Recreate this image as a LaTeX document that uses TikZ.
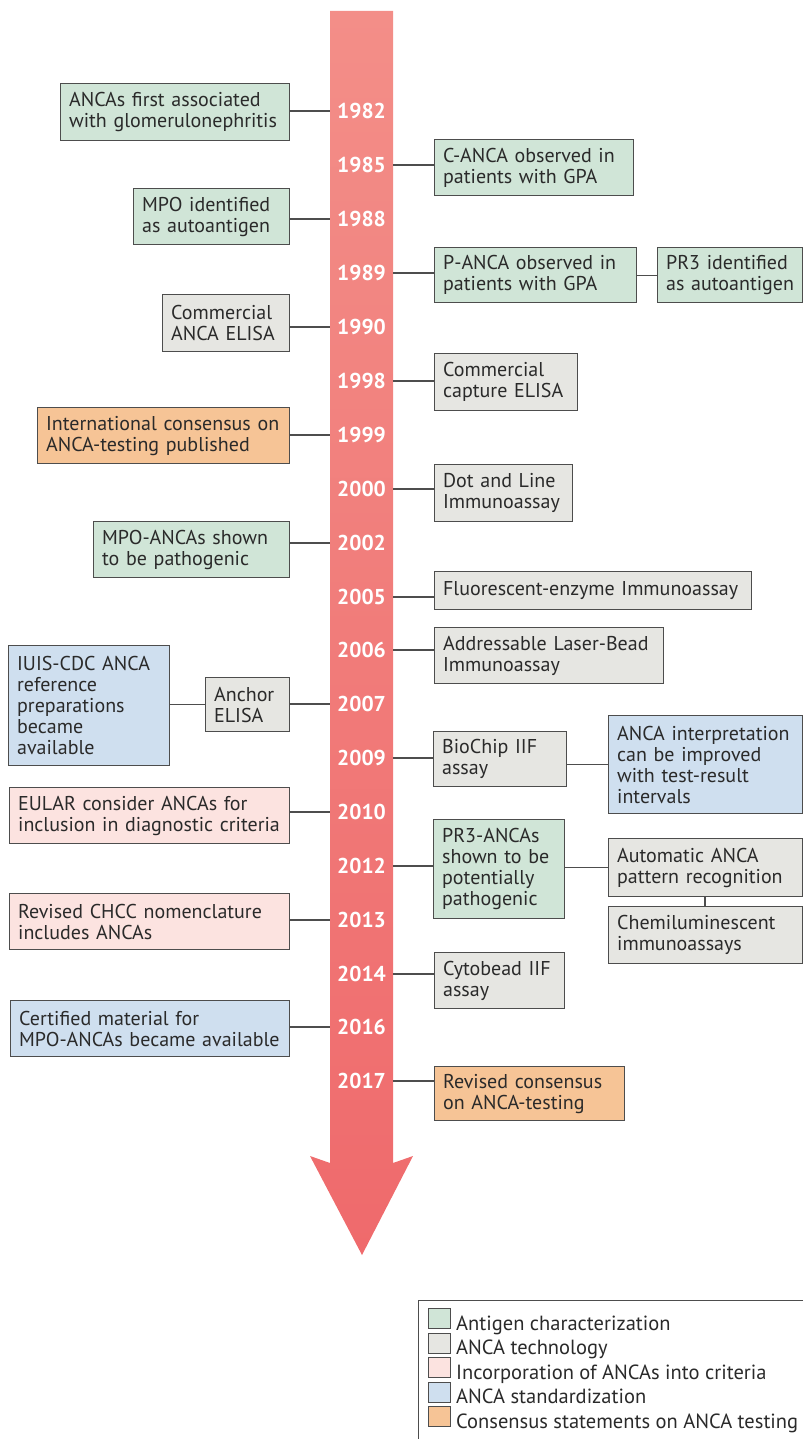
\documentclass[tikz,border=0pt]{standalone}
\usepackage{fontspec}
\setmainfont{PT Sans}
\definecolor{cgreen}{HTML}{D0E5D7}
\definecolor{cgrey}{HTML}{E6E6E2}
\definecolor{cpink}{HTML}{FCE3E0}
\definecolor{cblue}{HTML}{CFDFEF}
\definecolor{corange}{HTML}{F6C496}
\definecolor{cborder}{HTML}{4D4D4D}
\definecolor{ctext}{HTML}{2A2A2A}
\definecolor{arrtop}{HTML}{F38E88}
\definecolor{arrbot}{HTML}{EF6A6C}
\begin{document}
\begin{tikzpicture}[x=1pt,y=-1pt,
  box/.style={draw=cborder, line width=1.3pt, text=ctext, align=left,
    inner xsep=8.5pt, inner ysep=0pt, anchor=north west,
    font=\fontsize{20}{21}\selectfont},
  green/.style={box, fill=cgreen},
  grey/.style={box, fill=cgrey},
  pink/.style={box, fill=cpink},
  blue/.style={box, fill=cblue},
  orange/.style={box, fill=corange},
  year/.style={text=white, font=\fontsize{21.5}{21.5}\selectfont\bfseries, inner sep=0pt},
  conn/.style={draw=cborder, line width=1.2pt},
  lsq/.style={draw=cborder, line width=1pt, minimum width=22pt, minimum height=20pt, inner sep=0pt, anchor=north west},
  ltxt/.style={text=ctext, anchor=base west, inner sep=0pt, font=\fontsize{20.5}{21}\selectfont}
]
\useasboundingbox (0,0) rectangle (803,1439);

% arrow
\node[inner sep=0pt, minimum width=63pt, minimum height=1152pt, anchor=north west] (shaft) at (330,11) {};
\shade[top color=arrtop, bottom color=arrbot]
  (330,11) -- (393,11) -- (393,1163) -- (413,1156) -- (362,1255) -- (310,1156) -- (330,1163) -- cycle;

% years
\foreach \yr/\yy in {1982/111,1985/165,1988/219,1989/273,1990/327,1998/381,1999/435,2000/489,2002/543,2005/597,2006/650,2007/704,2009/758,2010/812,2012/866,2013/920,2014/974,2016/1027,2017/1081}
  \node[year] (y\yr) at (361.5,\yy) {\yr};

% left boxes
\node[green, text width=212pt, minimum height=57pt] (L1) at (60,83) {ANCAs first associated\\with glomerulonephritis};
\node[green, text width=139pt, minimum height=56pt] (L2) at (133,188) {MPO identified\\as autoantigen};
\node[grey, text width=110pt, minimum height=57pt] (L3) at (162,294) {Commercial\\ANCA ELISA};
\node[orange, text width=235pt, minimum height=56pt] (L4) at (37,407) {International consensus on\\ANCA-testing published};
\node[green, text width=179pt, minimum height=56pt] (L5) at (93,521) {MPO-ANCAs shown\\to be pathogenic};
\node[blue, text width=144pt, minimum height=120pt] (L6) at (8,645) {IUIS-CDC ANCA\\reference\\preparations\\became\\available};
\node[grey, text width=67pt, minimum height=54pt] (L7) at (205,677) {Anchor\\ELISA};
\node[pink, text width=263pt, minimum height=56pt] (L8) at (9,787) {EULAR consider ANCAs for\\inclusion in diagnostic criteria};
\node[pink, text width=263pt, minimum height=56pt] (L9) at (9,893) {Revised CHCC nomenclature\\includes ANCAs};
\node[blue, text width=262pt, minimum height=56pt] (L10) at (10,1000) {Certified material for\\MPO-ANCAs became available};

% right boxes
\node[green, text width=182pt, minimum height=56pt] (R1) at (434,139) {C-ANCA observed in\\patients with GPA};
\node[green, text width=185pt, minimum height=55pt] (R2) at (434,247) {P-ANCA observed in\\patients with GPA};
\node[green, text width=128pt, minimum height=55pt] (R3) at (657,247) {PR3 identified\\as autoantigen};
\node[grey, text width=126pt, minimum height=57pt] (R4) at (434,353) {Commercial\\capture ELISA};
\node[grey, text width=121pt, minimum height=57pt] (R5) at (434,464) {Dot and Line\\Immunoassay};
\node[grey, text width=300pt, minimum height=38pt] (R6) at (434,571) {Fluorescent-enzyme Immunoassay};
\node[grey, text width=212pt, minimum height=56pt] (R7) at (434,627) {Addressable Laser-Bead\\Immunoassay};
\node[grey, text width=116pt, minimum height=55pt] (R8) at (433,731) {BioChip IIF\\assay};
\node[blue, text width=177pt, minimum height=98pt] (R9) at (608,715) {ANCA interpretation\\can be improved\\with test-result\\intervals};
\node[green, text width=114pt, minimum height=99pt] (R10) at (433,819) {PR3-ANCAs\\shown to be\\potentially\\pathogenic};
\node[grey, text width=177pt, minimum height=58pt] (R11) at (608,838) {Automatic ANCA\\pattern recognition};
\node[grey, text width=177pt, minimum height=57pt] (R12) at (608,906) {Chemiluminescent\\immunoassays};
\node[grey, text width=113pt, minimum height=56pt] (R13) at (434,952) {Cytobead IIF\\assay};
\node[orange, text width=173pt, minimum height=54pt] (R14) at (434,1066) {Revised consensus\\on ANCA-testing};

% left connectors
\foreach \b/\yr in {L1/1982,L2/1988,L3/1990,L4/1999,L5/2002,L7/2007,L8/2010,L9/2013,L10/2016}
  \draw[conn] (\b.east |- y\yr) -- (shaft.west |- y\yr);
% right connectors
\foreach \b/\yr in {R1/1985,R2/1989,R4/1998,R5/2000,R6/2005,R7/2006,R8/2009,R10/2012,R13/2014,R14/2017}
  \draw[conn] (shaft.east |- y\yr) -- (\b.west |- y\yr);
% secondary connectors
\draw[conn] (L6.east |- L7.west) -- (L7.west);
\draw[conn] (R2.east |- R3.west) -- (R3.west);
\draw[conn] (R8.east |- R9.west) -- (R9.west);
\draw[conn] (R10.east |- R11.west) -- (R11.west);
\coordinate (vx) at (705,0);
\draw[conn] (vx |- R11.south) -- (vx |- R12.north);

% legend
\draw[cborder, line width=1pt] (803,1300) -- (418,1300) -- (418,1439);
\foreach \c/\t [count=\i from 0] in {cgreen/Antigen characterization, cgrey/ANCA technology, cpink/Incorporation of ANCAs into criteria, cblue/ANCA standardization, corange/Consensus statements on ANCA testing}{
  \node[lsq, fill=\c] (k\i) at (428,1308+24.5*\i) {};
  \node[ltxt] (t\i) at (456,1330+24.5*\i) {\t};
}
\end{tikzpicture}
\end{document}
